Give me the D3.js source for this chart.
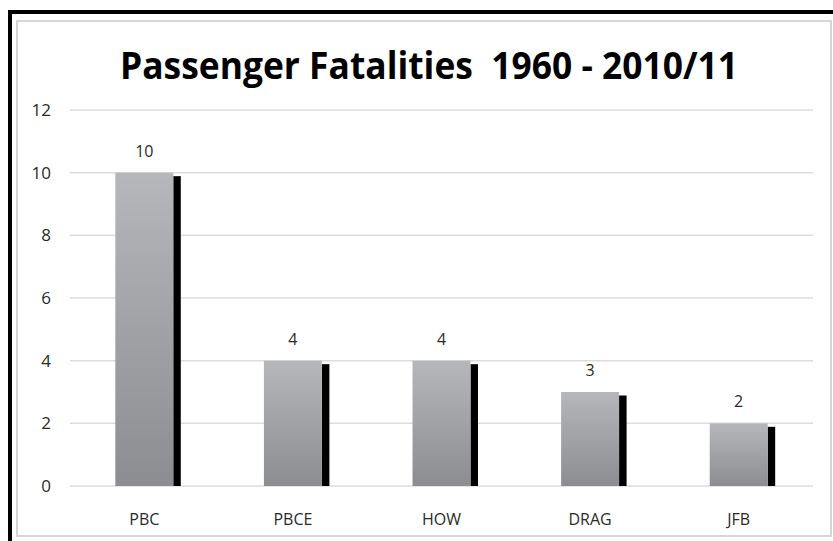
<!DOCTYPE html>
<html>
<head>
<meta charset="utf-8">
<script src="https://cdn.jsdelivr.net/npm/d3@7"></script>
<style>
  body { margin: 0; background: #fff; }
  svg { display: block; }
</style>
</head>
<body>
<div id="bar-chart">
  <svg width="833" height="541"></svg>
</div>
<script>
const categories = ["PBC", "PBCE", "HOW", "DRAG", "JFB"];
const fatalities = [10, 4, 4, 3, 2];
const yTicks = [0, 2, 4, 6, 8, 10, 12];
const title = "Passenger Fatalities\u00a0 1960 - 2010/11";

const drawChart = () => {
  const data = categories.map((c, i) => {
    return { engine: c, number: fatalities[i] };
  });

  const svg = d3.select("#bar-chart").select("svg");

  // outer black frame (right / bottom edges run off the picture)
  svg.append("path")
    .attr("d", "M10,545 L10,12 L840,12")
    .attr("fill", "none")
    .attr("stroke", "#000")
    .attr("stroke-width", 4);

  svg.append("rect")
    .attr("x", 17)
    .attr("y", 21)
    .attr("width", 814)
    .attr("height", 515)
    .attr("fill", "none")
    .attr("stroke", "#d6d6d6")
    .attr("stroke-width", 2);

  // calibri-ish: tall glyphs squeezed to the reference width
  svg.append("text")
    .attr("x", 120)
    .attr("y", 79)
    .attr("textLength", 618)
    .attr("lengthAdjust", "spacingAndGlyphs")
    .style("font-family", "'Open Sans', sans-serif")
    .style("font-weight", 700)
    .style("font-size", "37px")
    .attr("fill", "#000")
    .text(title);

  const x = d3.scaleBand()
    .domain(data.map(d => d.engine))
    .range([70, 813])
    .padding(0);

  const y = d3.scaleLinear()
    .domain([0, 12])
    .range([486, 110]);

  const barW = x.bandwidth() * 0.39;

  // grid
  svg.append("g")
    .selectAll("line")
    .data(yTicks)
    .join("line")
    .attr("x1", 70)
    .attr("x2", 813)
    .attr("y1", d => y(d))
    .attr("y2", d => y(d))
    .attr("stroke", "#dcdcdc")
    .attr("stroke-width", 1.5);

  const yAxis = svg.append("g")
    .attr("transform", "translate(51,0)")
    .call(d3.axisLeft(y).tickValues(yTicks).tickSize(0).tickPadding(0));
  yAxis.select(".domain").remove();
  yAxis.selectAll("text")
    .style("font-family", "'Open Sans', sans-serif")
    .style("font-size", "17px")
    .attr("fill", "#2a2a2a");

  const xAxis = svg.append("g")
    .attr("transform", "translate(0,486)")
    .call(d3.axisBottom(x).tickSize(0).tickPadding(28));
  xAxis.select(".domain").remove();
  xAxis.selectAll("text")
    .style("font-family", "'Open Sans', sans-serif")
    .style("font-size", "16px")
    .attr("fill", "#2a2a2a");

  const defs = svg.append("defs");
  const grad = defs.append("linearGradient")
    .attr("id", "barGrad")
    .attr("x1", 0).attr("y1", 0)
    .attr("x2", 0).attr("y2", 1);
  grad.append("stop").attr("offset", "0%").attr("stop-color", "#b6b7ba");
  grad.append("stop").attr("offset", "100%").attr("stop-color", "#8c8d90");

  const bars = svg.append("g");

  bars.selectAll("rect.side")
    .data(data)
    .join("rect")
    .attr("class", "side")
    .attr("x", d => x(d.engine) + x.bandwidth() / 2 + barW / 2)
    .attr("y", d => y(d.number) + 3.5)
    .attr("width", 7.5)
    .attr("height", d => y(0) - y(d.number) - 3.5)
    .attr("fill", "#000");

  bars.selectAll("rect.bar")
    .data(data)
    .join("rect")
    .attr("class", "bar")
    .attr("x", d => x(d.engine) + x.bandwidth() / 2 - barW / 2)
    .attr("y", d => y(d.number))
    .attr("width", barW)
    .attr("height", d => y(0) - y(d.number))
    .attr("fill", "url(#barGrad)");

  bars.selectAll("text")
    .data(data)
    .join("text")
    .attr("x", d => x(d.engine) + x.bandwidth() / 2)
    .attr("y", d => y(d.number) - 16)
    .attr("text-anchor", "middle")
    .style("font-family", "'Open Sans', sans-serif")
    .style("font-size", "16px")
    .attr("fill", "#2a2a2a")
    .text(d => d.number);
};

drawChart();
</script>
</body>
</html>
